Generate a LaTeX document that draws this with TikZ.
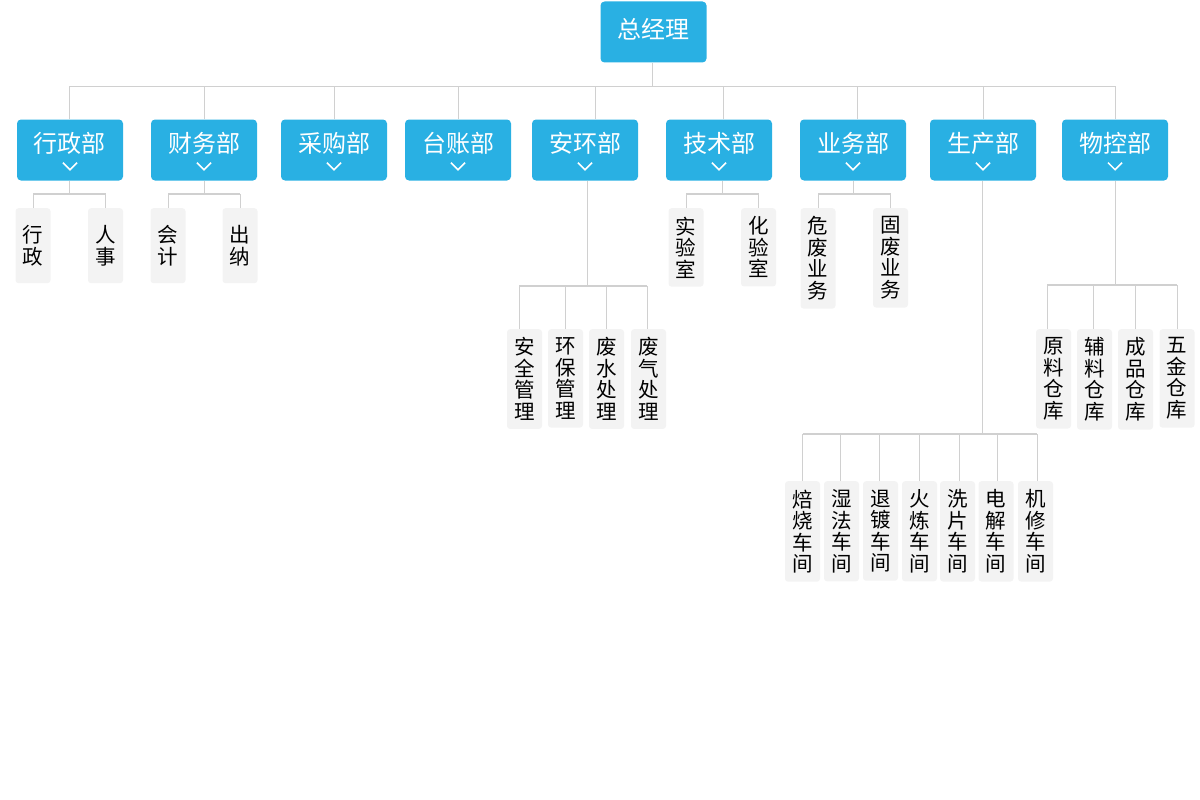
\documentclass[tikz,border=0pt]{standalone}
\usepackage{fontspec}
\newfontfamily\cjk{Noto Sans CJK SC}
\definecolor{deptblue}{RGB}{41,176,227}
\definecolor{leafgray}{RGB}{243,243,243}
\definecolor{linegray}{RGB}{208,208,208}
\begin{document}
\begin{tikzpicture}[x=1pt,y=-1pt,
  rootbox/.style={fill=deptblue,rounded corners=4pt,minimum width=106pt,minimum height=61pt,inner sep=0pt,text height=37pt,text depth=24pt,text=white,font=\cjk\fontsize{24}{24}\selectfont},
  deptbox/.style={fill=deptblue,rounded corners=4pt,minimum width=106pt,inner sep=0pt,text height=33pt,text depth=28pt,text=white,font=\cjk\fontsize{24}{24}\selectfont},
  leafbox/.style={fill=leafgray,rounded corners=3pt,minimum width=35pt,minimum height=75pt,inner xsep=0pt,inner ysep=8.5pt,align=center,anchor=north,font=\cjk\fontsize{20.5}{21.5}\selectfont},
  link/.style={draw=linegray,line width=1pt},
  busline/.style={draw=linegray,line width=2.5pt},
  chev/.style={draw=white,line width=1.5pt}
]
\useasboundingbox (0,0) rectangle (1200,800);
% root
\node[rootbox] (root) at (653.5,32) {总经理};
% departments
\node[deptbox] (d1) at (70,150) {行政部};
\node[deptbox] (d2) at (204,150) {财务部};
\node[deptbox] (d3) at (334,150) {采购部};
\node[deptbox] (d4) at (458,150) {台账部};
\node[deptbox] (d5) at (585,150) {安环部};
\node[deptbox] (d6) at (719,150) {技术部};
\node[deptbox] (d7) at (853,150) {业务部};
\node[deptbox] (d8) at (983,150) {生产部};
\node[deptbox] (d9) at (1115,150) {物控部};
\foreach \d in {d1,d2,d3,d4,d5,d6,d7,d8,d9}{
  \draw[chev] ([xshift=-7pt,yshift=18pt]\d.south) -- ++(7,7) -- ++(7,-7);
}
% top bus
\coordinate (tb) at (652,87);
\draw[link] ([xshift=-1.5pt]root.south) -- ([xshift=-1.5pt]root.south |- tb);
\draw[link] ([xshift=-1pt]d1.north) |- ([xshift=0.5pt]d9.north |- tb) -- ([xshift=0.5pt]d9.north);
\draw[link] (d2.north) -- (d2.north |- tb);
\draw[link] (d3.north) -- (d3.north |- tb);
\draw[link] (d4.north) -- (d4.north |- tb);
\draw[link] ([xshift=10pt]d5.north) -- ([xshift=10pt]d5.north |- tb);
\draw[link] ([xshift=4pt]d6.north) -- ([xshift=4pt]d6.north |- tb);
\draw[link] ([xshift=4pt]d7.north) -- ([xshift=4pt]d7.north |- tb);
\draw[link] (d8.north) -- (d8.north |- tb);

% leaves: 行政部
\node[leafbox] (a1) at (33,208) {行\\政};
\node[leafbox] (a2) at (105.5,208) {人\\事};
\coordinate (ab) at (69,194);
\draw[link] ([xshift=-1pt]d1.south) -- ([xshift=-1pt]d1.south |- ab);
\draw[busline] (a1.north |- ab) -- (a2.north |- ab);
\draw[link] (a1.north) -- (a1.north |- ab);
\draw[link] (a2.north) -- (a2.north |- ab);

% 财务部
\node[leafbox] (b1) at (168,208) {会\\计};
\node[leafbox] (b2) at (240,208) {出\\纳};
\coordinate (bb) at (204,194);
\draw[link] (d2.south) -- (d2.south |- bb);
\draw[busline] (b1.north |- bb) -- (b2.north |- bb);
\draw[link] (b1.north) -- (b1.north |- bb);
\draw[link] (b2.north) -- (b2.north |- bb);

% 技术部
\node[leafbox] (t1) at (686,208) {实\\验\\室};
\node[leafbox] (t2) at (758.5,208) {化\\验\\室};
\coordinate (tbb) at (722,194);
\draw[link] ([xshift=3pt]d6.south) -- ([xshift=3pt]d6.south |- tbb);
\draw[busline] (t1.north |- tbb) -- (t2.north |- tbb);
\draw[link] (t1.north) -- (t1.north |- tbb);
\draw[link] (t2.north) -- (t2.north |- tbb);

% 业务部
\node[leafbox] (y1) at (818,208) {危\\废\\业\\务};
\node[leafbox] (y2) at (890.5,208) {固\\废\\业\\务};
\coordinate (yb) at (853,194);
\draw[link] (d7.south) -- (d7.south |- yb);
\draw[busline] (y1.north |- yb) -- (y2.north |- yb);
\draw[link] (y1.north) -- (y1.north |- yb);
\draw[link] (y2.north) -- (y2.north |- yb);

% 安环部
\node[leafbox] (h1) at (524.5,329) {安\\全\\管\\理};
\node[leafbox] (h2) at (565.5,329) {环\\保\\管\\理};
\node[leafbox] (h3) at (606.5,329) {废\\水\\处\\理};
\node[leafbox] (h4) at (648.5,329) {废\\气\\处\\理};
\coordinate (hb) at (587,286);
\draw[link] ([xshift=2pt]d5.south) -- ([xshift=2pt]d5.south |- hb);
\draw[busline] ([xshift=-5.5pt]h1.north |- hb) -- ([xshift=-1.5pt]h4.north |- hb);
\draw[link] ([xshift=-5.5pt]h1.north) -- ([xshift=-5.5pt]h1.north |- hb);
\draw[link] (h2.north) -- (h2.north |- hb);
\draw[link] (h3.north) -- (h3.north |- hb);
\draw[link] ([xshift=-1.5pt]h4.north) -- ([xshift=-1.5pt]h4.north |- hb);

% 生产部
\node[leafbox] (s1) at (802.5,481) {焙\\烧\\车\\间};
\node[leafbox] (s2) at (841.5,481) {湿\\法\\车\\间};
\node[leafbox] (s3) at (880.5,481) {退\\镀\\车\\间};
\node[leafbox] (s4) at (919.5,481) {火\\炼\\车\\间};
\node[leafbox] (s5) at (957.5,481) {洗\\片\\车\\间};
\node[leafbox] (s6) at (996,481) {电\\解\\车\\间};
\node[leafbox] (s7) at (1035.5,481) {机\\修\\车\\间};
\coordinate (sb) at (982,434);
\draw[link] ([xshift=-1pt]d8.south) -- ([xshift=-1pt]d8.south |- sb);
\draw[busline] (s1.north |- sb) -- ([xshift=1.5pt]s7.north |- sb);
\draw[link] (s1.north) -- (s1.north |- sb);
\draw[link] ([xshift=-1.5pt]s2.north) -- ([xshift=-1.5pt]s2.north |- sb);
\draw[link] ([xshift=-1.5pt]s3.north) -- ([xshift=-1.5pt]s3.north |- sb);
\draw[link] (s4.north) -- (s4.north |- sb);
\draw[link] ([xshift=1.5pt]s5.north) -- ([xshift=1.5pt]s5.north |- sb);
\draw[link] ([xshift=1pt]s6.north) -- ([xshift=1pt]s6.north |- sb);
\draw[link] ([xshift=1.5pt]s7.north) -- ([xshift=1.5pt]s7.north |- sb);

% 物控部
\node[leafbox] (w1) at (1053.5,329) {原\\料\\仓\\库};
\node[leafbox] (w2) at (1094.5,329) {辅\\料\\仓\\库};
\node[leafbox] (w3) at (1135.5,329) {成\\品\\仓\\库};
\node[leafbox] (w4) at (1177,329) {五\\金\\仓\\库};
\coordinate (wb) at (1115,285);
\draw[link] (d9.south) -- (d9.south |- wb);
\draw[busline] ([xshift=-6.5pt]w1.north |- wb) -- (w4.north |- wb);
\draw[link] ([xshift=-6.5pt]w1.north) -- ([xshift=-6.5pt]w1.north |- wb);
\draw[link] ([xshift=-1.5pt]w2.north) -- ([xshift=-1.5pt]w2.north |- wb);
\draw[link] (w3.north) -- (w3.north |- wb);
\draw[link] (w4.north) -- (w4.north |- wb);
\end{tikzpicture}
\end{document}
